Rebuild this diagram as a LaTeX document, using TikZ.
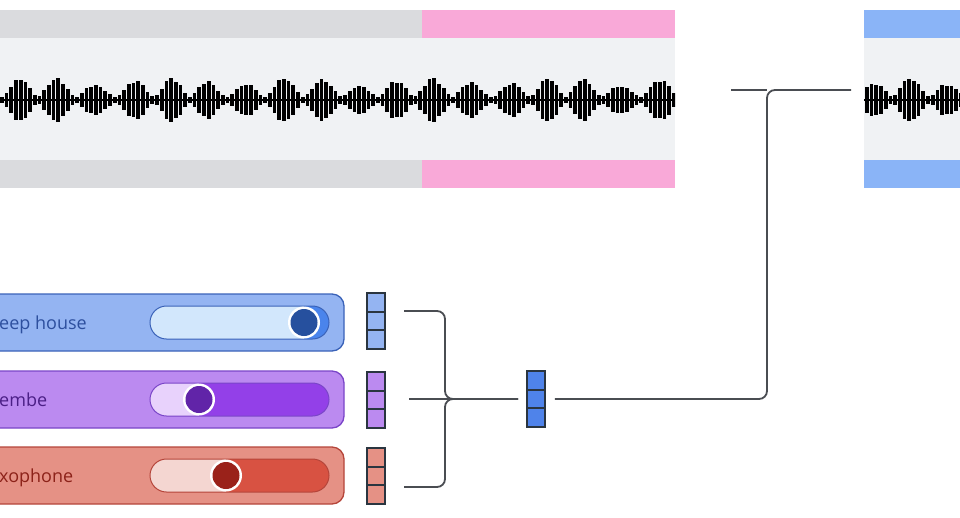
\documentclass[tikz,border=0pt]{standalone}
\usepackage{fontspec}
\setmainfont{Open Sans}
\usetikzlibrary{calc}

\definecolor{bandgray}{HTML}{DADBDE}
\definecolor{bandpink}{HTML}{F9A9D8}
\definecolor{bandblue}{HTML}{8AB4F7}
\definecolor{panelbg}{HTML}{F0F2F4}
\definecolor{wire}{HTML}{4A4D52}
\definecolor{cellline}{HTML}{2A3540}
\definecolor{mixfill}{HTML}{4F83EA}
\definecolor{deepfill}{HTML}{94B4F2}
\definecolor{deepline}{HTML}{3A62B8}
\definecolor{deeptext}{HTML}{2D4F9E}
\definecolor{deeptrack}{HTML}{D2E7FC}
\definecolor{deepon}{HTML}{4A84EC}
\definecolor{deepknob}{HTML}{26509E}
\definecolor{djembefill}{HTML}{BB8AF0}
\definecolor{djembeline}{HTML}{7A45C8}
\definecolor{djembetext}{HTML}{4B1F86}
\definecolor{djembetrack}{HTML}{E8D2FC}
\definecolor{djembeon}{HTML}{9340E8}
\definecolor{djembeknob}{HTML}{6124A8}
\definecolor{saxfill}{HTML}{E59185}
\definecolor{saxline}{HTML}{B5453A}
\definecolor{saxtext}{HTML}{8C2219}
\definecolor{saxtrack}{HTML}{F4D6D1}
\definecolor{saxon}{HTML}{D85242}
\definecolor{saxknob}{HTML}{9A221A}

\tikzset{
  vec/.style={draw=cellline, line width=1.8pt, minimum width=18pt, minimum height=56pt, inner sep=0pt,
    path picture={\foreach \k in {1,2}
      \draw[cellline, line width=1.8pt] ($(path picture bounding box.north west)!\k/3!(path picture bounding box.south west)$) -- ++(20pt,0pt);}},
  card/.style={line width=1.3pt, rounded corners=12pt},
  wireline/.style={wire, line width=1.8pt},
  lbl/.style={font=\fontsize{18}{20}\selectfont}
}

\begin{document}
\begin{tikzpicture}[x=1pt, y=-1pt]
    \useasboundingbox (0,0) rectangle (960,517);
    \clip (0,0) rectangle (960,517);
    % Input track
    \fill[bandgray] (0,10) rectangle (422,188);
    \fill[bandpink] (422,10) rectangle (675,188);
    \fill[panelbg] (0,38) rectangle (675,160);
    \begin{scope}
        \clip (0,38) rectangle (675,160);
        \fill (0,99.3) rectangle (675,100.7);
        \foreach \i in {0,...,144} {
            \pgfmathsetmacro{\h}{3+20*pow(abs(sin(\i*22.5+8*sin(\i*9))),1.6)*(0.55+0.45*abs(sin(\i*6.5+40)))*(0.8+0.2*abs(cos(\i*61)))}
            \fill (\i*4.7, 100-\h) rectangle ++(3.7, 2*\h);
        }
    \end{scope}
    % Output track
    \fill[bandblue] (864,10) rectangle (970,188);
    \fill[panelbg] (864,38) rectangle (970,160);
    \begin{scope}
        \clip (864,38) rectangle (960,160);
        \fill (864,99.3) rectangle (960,100.7);
        \foreach \i in {0,...,20} {
            \pgfmathsetmacro{\h}{3+20*pow(abs(sin(\i*22.5+60)),1.6)*(0.55+0.45*abs(sin(\i*9+10)))*(0.8+0.2*abs(cos(\i*47)))}
            \fill (865+\i*4.7, 100-\h) rectangle ++(3.7, 2*\h);
        }
    \end{scope}
    % Prompt cards with sliders
    \foreach \row/\yc/\kx/\txt in {deep/322.5/304/eep house, djembe/399.5/199/embe, sax/475.5/226/xophone} {
        \draw[card, fill=\row fill, draw=\row line] (-20,\yc-28.5) rectangle (344,\yc+28.5);
        \node[lbl, anchor=base west, text=\row text, inner sep=0pt] (\row lbl) at (-1,\yc+7) {\txt};
        \begin{scope}
            \clip[rounded corners=16.5pt] (150,\yc-16.5) rectangle (329,\yc+16.5);
            \fill[\row track] (150,\yc-16.5) rectangle (329,\yc+16.5);
            \fill[\row on] (\kx,\yc-16.5) rectangle (329,\yc+16.5);
        \end{scope}
        \draw[\row line, line width=1pt, rounded corners=16.5pt] (150,\yc-16.5) rectangle (329,\yc+16.5);
        \fill[white] (\kx,\yc) circle (16pt);
        \fill[\row knob] (\kx,\yc) circle (13.5pt);
    }
    % Embeddings
    \node[vec, fill=deepfill] (vdeep) at (376,321) {};
    \node[vec, fill=djembefill] (vdjembe) at (376,400) {};
    \node[vec, fill=saxfill] (vsax) at (376,476) {};
    \node[vec, fill=mixfill] (vmix) at (536,399) {};
    % Mixing brace
    \coordinate (brA) at (404,311);
    \coordinate (brB) at (409,399);
    \coordinate (brC) at (404,487);
    \coordinate (brK) at (445,399);
    \coordinate (brJ) at (518,399);
    \draw[wireline, rounded corners=8pt] (brA) -| (brK) -- (brJ);
    \draw[wireline, rounded corners=8pt] (brC) -| (brK) -- (brJ);
    \draw[wireline] (brB) -- (brJ);
    % Conditioning line
    \coordinate (mixout) at ([xshift=9pt]vmix.east);
    \coordinate (tee) at (767,90);
    \coordinate (inL) at (731,90);
    \coordinate (outR) at (851,90);
    \draw[wireline, rounded corners=8pt] (mixout) -| (tee) -- (outR);
    \draw[wireline] (inL) -- (tee);
\end{tikzpicture}
\end{document}
